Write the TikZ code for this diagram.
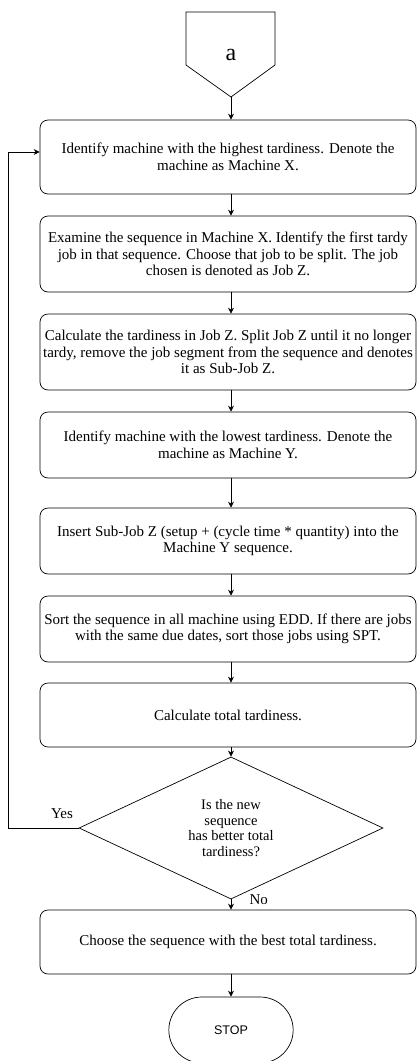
\documentclass[tikz,border=0pt]{standalone}
\usepackage{fontspec}
\setmainfont{Liberation Serif}
\newfontfamily\stopfont{Liberation Sans}
\usetikzlibrary{shapes.geometric,shapes.misc,arrows.meta}
\begin{document}
\begin{tikzpicture}[x=1pt,y=-1pt,
  every node/.style={font=\fontsize{15}{16.5}\selectfont},
  procbox/.style={draw,line width=0.7pt,rounded corners=8pt,minimum width=376pt,minimum height=#1,align=center,inner sep=0pt},
  flow/.style={-{Stealth[length=6pt,width=6pt]},line width=0.7pt}]
\useasboundingbox (0,0) rectangle (417,1061);
% off-page connector
\draw[line width=0.7pt] (186,12) -- (275,12) -- (275,65) -- (231,97) -- (186,65) -- cycle;
\node[font=\fontsize{24}{26}\selectfont] (a) at (231,55) {a};
\coordinate (atip) at (231,97);
\node[procbox=74pt] (b1) at (228,157) {Identify machine with the highest tardiness. Denote the\\machine as Machine X.};
\node[procbox=76pt] (b2) at (228,254) {Examine the sequence in Machine X. Identify the first tardy\\job in that sequence. Choose that job to be split. The job\\chosen is denoted as Job Z.};
\node[procbox=76pt] (b3) at (228,352) {Calculate the tardiness in Job Z. Split Job Z until it no longer\\tardy, remove the job segment from the sequence and denotes\\it as Sub-Job Z.};
\node[procbox=66pt] (b4) at (228,445) {Identify machine with the lowest tardiness. Denote the\\machine as Machine Y.};
\node[procbox=66pt] (b5) at (228,541) {Insert Sub-Job Z (setup + (cycle time * quantity) into the\\Machine Y sequence.};
\node[procbox=66pt] (b6) at (228,629) {Sort the sequence in all machine using EDD. If there are jobs\\with the same due dates, sort those jobs using SPT.};
\node[procbox=64pt] (b7) at (228,715) {Calculate total tardiness.};
\node[draw,line width=0.7pt,shape=diamond,minimum width=304pt,minimum height=118pt,inner sep=0pt,align=center,font=\fontsize{14.5}{15.5}\selectfont] (d) at (231,828) {Is the new\\sequence\\has better total\\tardiness?};
\node[procbox=64pt] (b8) at (228,942) {Choose the sequence with the best total tardiness.};
\node[draw,line width=0.7pt,rounded rectangle,minimum width=131pt,minimum height=66pt,font=\stopfont\fontsize{12.5}{14}\selectfont] (stop) at (231,1030) {STOP};
% connectors
\draw[flow] (atip) -- (b1.north -| atip);
\draw[flow] (b1.south -| atip) -- (b2.north -| atip);
\draw[flow] (b2.south -| atip) -- (b3.north -| atip);
\draw[flow] (b3.south -| atip) -- (b4.north -| atip);
\draw[flow] (b4.south -| atip) -- (b5.north -| atip);
\draw[flow] (b5.south -| atip) -- (b6.north -| atip);
\draw[flow] (b6.south -| atip) -- (b7.north -| atip);
\draw[flow] (b7.south -| atip) -- (d.north);
\draw[flow] (d.south) -- (b8.north -| d.south);
\draw[flow] (b8.south -| atip) -- (stop.north);
\coordinate (lp1) at (8,828);
\coordinate (lp2) at (8,152);
\draw[flow] (d.west) -- (lp1) -- (lp2) -- (b1.west |- lp2);
\node[anchor=base] (yes) at (62,818) {Yes};
\node[anchor=base west] (no) at (246,904) {No};
\end{tikzpicture}
\end{document}
